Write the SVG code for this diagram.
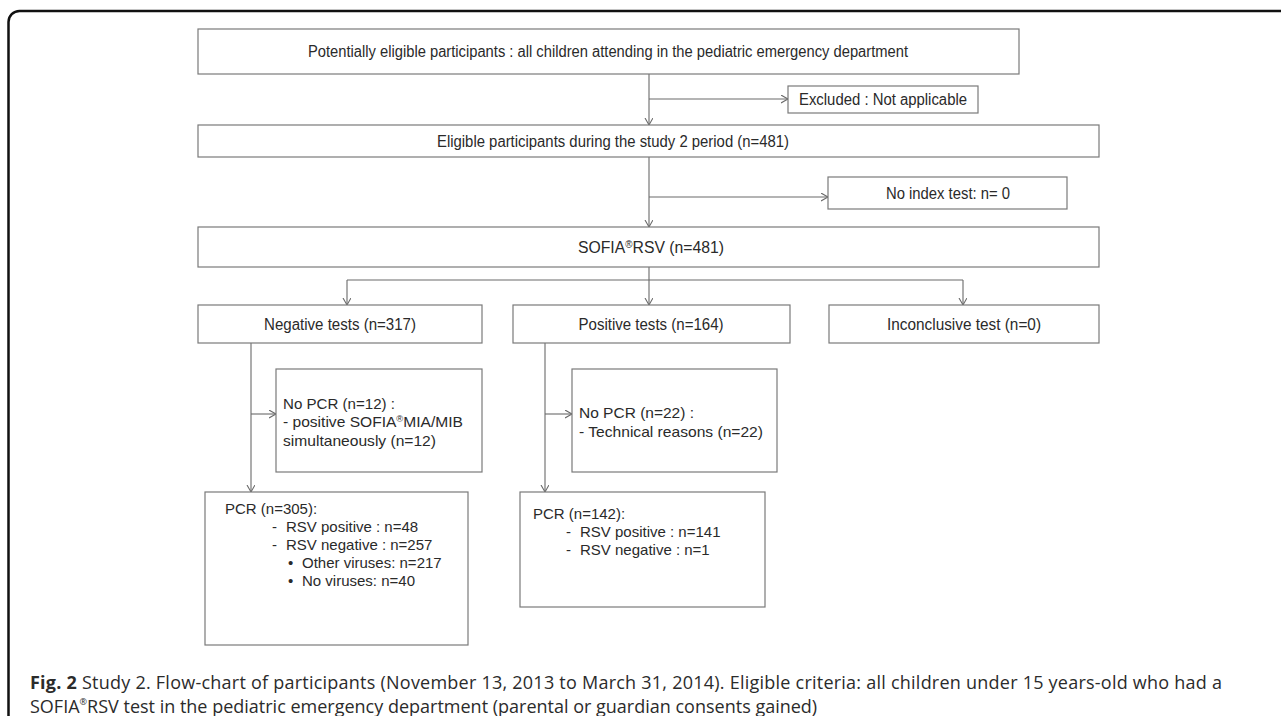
<svg xmlns="http://www.w3.org/2000/svg" width="1281" height="716" viewBox="0 0 1281 716">
<defs>
<style>
.box{fill:#fff;stroke:#7a7a7a;stroke-width:1.2}
.t{font-family:"Liberation Sans",Arial,sans-serif;font-size:16px;fill:#2a2a2a}
.m{font-family:"Liberation Sans",Arial,sans-serif;font-size:15px;fill:#2a2a2a}
.c{text-anchor:middle}
.s{font-family:"Liberation Sans",Arial,sans-serif;font-size:15px;fill:#2a2a2a}
.cap{font-family:"Open Sans","Noto Sans",sans-serif;font-size:18px;fill:#2b2b2b}
.ln{fill:none;stroke:#6a6a6a;stroke-width:1.1}
.ar{marker-end:url(#arr)}
</style>
<marker id="arr" markerUnits="userSpaceOnUse" markerWidth="12" markerHeight="12" refX="7" refY="4" orient="auto">
<path d="M0,0 L7,4 L0,8" fill="none" stroke="#6a6a6a" stroke-width="1.1"/>
</marker>
</defs>
<rect width="1281" height="716" fill="#fff"/>
<path d="M8.5 716 V22 A11 11 0 0 1 19.5 11 H1281" fill="none" stroke="#111" stroke-width="2.5"/>

<g id="connectors">
<path class="ln ar" d="M649 74 V125"/>
<path class="ln ar" d="M649 99 H788"/>
<path class="ln ar" d="M649 157 V227"/>
<path class="ln ar" d="M649 197 H828"/>
<path class="ln" d="M649 267 V280 M347 280 H963"/>
<path class="ln ar" d="M347 280 V305"/>
<path class="ln ar" d="M649 280 V305"/>
<path class="ln ar" d="M963 280 V305"/>
<path class="ln ar" d="M251 343 V492"/>
<path class="ln ar" d="M251 414 H276"/>
<path class="ln ar" d="M545 343 V492"/>
<path class="ln ar" d="M545 414 H572"/>
</g>

<g id="potentially-eligible">
<rect class="box" x="198" y="29" width="821" height="45"/>
<text class="t c" x="608" y="57" textLength="600" lengthAdjust="spacingAndGlyphs">Potentially eligible participants : all children attending in the pediatric emergency department</text>
</g>
<g id="excluded">
<rect class="box" x="788" y="86" width="190" height="27"/>
<text class="t c" x="883" y="105" textLength="168" lengthAdjust="spacingAndGlyphs">Excluded : Not applicable</text>
</g>
<g id="eligible">
<rect class="box" x="198" y="125" width="901" height="32"/>
<text class="t c" x="613" y="146.5" textLength="352" lengthAdjust="spacingAndGlyphs">Eligible participants during the study 2 period (n=481)</text>
</g>
<g id="no-index">
<rect class="box" x="828" y="177" width="239" height="32"/>
<text class="t c" x="948" y="198.5" textLength="124" lengthAdjust="spacingAndGlyphs">No index test: n= 0</text>
</g>
<g id="sofia">
<rect class="box" x="198" y="227" width="901" height="40"/>
<text class="t c" x="651" y="252.5" textLength="146" lengthAdjust="spacingAndGlyphs">SOFIA<tspan font-size="10" dy="-5">®</tspan><tspan dy="5">RSV (n=481)</tspan></text>
</g>
<g id="negative">
<rect class="box" x="198" y="305" width="284" height="38"/>
<text class="t c" x="340" y="329.5" textLength="152" lengthAdjust="spacingAndGlyphs">Negative tests (n=317)</text>
</g>
<g id="positive">
<rect class="box" x="513" y="305" width="277" height="38"/>
<text class="t c" x="651" y="329.5" textLength="145" lengthAdjust="spacingAndGlyphs">Positive tests (n=164)</text>
</g>
<g id="inconclusive">
<rect class="box" x="829" y="305" width="270" height="38"/>
<text class="t c" x="964" y="329.5" textLength="154" lengthAdjust="spacingAndGlyphs">Inconclusive test (n=0)</text>
</g>
<g id="no-pcr-12">
<rect class="box" x="276" y="369" width="206" height="103"/>
<text class="m" x="283" y="408.5" textLength="112" lengthAdjust="spacingAndGlyphs">No PCR (n=12) :</text>
<text class="m" x="283" y="427" textLength="180" lengthAdjust="spacingAndGlyphs">- positive SOFIA<tspan font-size="9" dy="-5">®</tspan><tspan dy="5">MIA/MIB</tspan></text>
<text class="m" x="283" y="445.5" textLength="153" lengthAdjust="spacingAndGlyphs">simultaneously (n=12)</text>
</g>
<g id="no-pcr-22">
<rect class="box" x="572" y="369" width="205" height="103"/>
<text class="m" x="579" y="418" textLength="115" lengthAdjust="spacingAndGlyphs">No PCR (n=22) :</text>
<text class="m" x="579" y="436.5" textLength="184" lengthAdjust="spacingAndGlyphs">- Technical reasons (n=22)</text>
</g>
<g id="pcr-305">
<rect class="box" x="205" y="492" width="263" height="153"/>
<text class="s" x="225" y="514">PCR (n=305):</text>
<text class="s" x="272" y="532">-</text>
<text class="s" x="286" y="532">RSV positive : n=48</text>
<text class="s" x="272" y="550">-</text>
<text class="s" x="286" y="550">RSV negative : n=257</text>
<text class="s" x="288" y="568">•</text>
<text class="s" x="302" y="568">Other viruses: n=217</text>
<text class="s" x="288" y="586">•</text>
<text class="s" x="302" y="586">No viruses: n=40</text>
</g>
<g id="pcr-142">
<rect class="box" x="520" y="492" width="245" height="115"/>
<text class="s" x="533" y="519">PCR (n=142):</text>
<text class="s" x="566" y="537">-</text>
<text class="s" x="580" y="537">RSV positive : n=141</text>
<text class="s" x="566" y="555">-</text>
<text class="s" x="580" y="555">RSV negative : n=1</text>
</g>
<g id="caption">
<text class="cap" x="30" y="688.5" textLength="1192" lengthAdjust="spacing"><tspan font-weight="bold">Fig. 2</tspan> Study 2. Flow-chart of participants (November 13, 2013 to March 31, 2014). Eligible criteria: all children under 15 years-old who had a</text>
<text class="cap" x="30" y="712.5">SOFIA<tspan font-size="9" dy="-8">®</tspan><tspan dy="8">RSV test in the pediatric emergency department (parental or guardian consents gained)</tspan></text>
</g>
</svg>
